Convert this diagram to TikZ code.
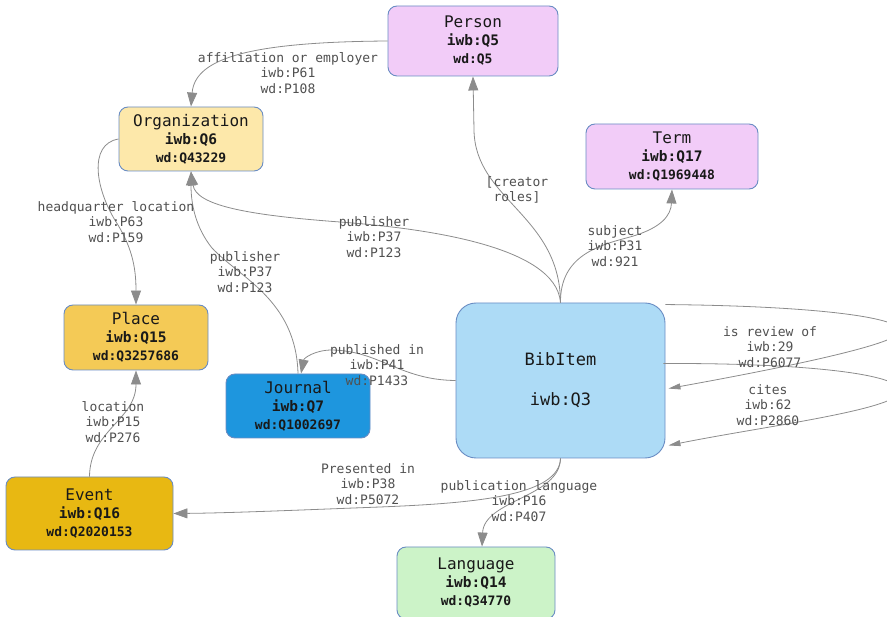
\documentclass[tikz,border=0pt]{standalone}
\usepackage{fontspec}
\newfontfamily\dvm{DejaVu Sans Mono}
\usetikzlibrary{arrows.meta,calc}
\definecolor{bord}{RGB}{105,140,195}
\definecolor{edgec}{RGB}{140,140,140}
\definecolor{lblc}{RGB}{80,80,80}
\definecolor{txtc}{RGB}{25,25,25}
\definecolor{persc}{RGB}{242,204,248}
\definecolor{orgc}{RGB}{253,232,170}
\definecolor{placec}{RGB}{244,202,86}
\definecolor{jourc}{RGB}{30,150,222}
\definecolor{bibc}{RGB}{173,219,246}
\definecolor{eventc}{RGB}{232,184,18}
\definecolor{langc}{RGB}{204,243,200}
\newcommand\ttl[1]{{\fontsize{16}{18}\selectfont #1}}
\newcommand\idi[1]{{\bfseries\fontsize{14.5}{18}\selectfont #1}}
\newcommand\idw[1]{{\bfseries\fontsize{13}{18}\selectfont #1}}
\tikzset{
  box/.style={draw=bord, line width=0.9pt, rounded corners=9pt, align=center,
    text=txtc, inner sep=0pt, font=\dvm\fontsize{14}{18}\selectfont},
  edge/.style={draw=edgec, line width=0.8pt, -{Triangle[length=14pt,width=10pt]}},
  loopedge/.style={draw=edgec, line width=0.8pt, -{Triangle[length=12pt,width=6pt]}},
  lbl/.style={font=\dvm\fontsize{13}{15.5}\selectfont, text=lblc, align=center, inner sep=0pt}
}
\begin{document}
\begin{tikzpicture}[x=1pt,y=-1pt]
\useasboundingbox (0,0) rectangle (887,617);
% nodes
\node[box, fill=persc, minimum width=170pt, minimum height=70pt] (person) at (473,41)
  {\ttl{Person}\\\idi{iwb:Q5}\\\idw{wd:Q5}};
\node[box, fill=orgc, minimum width=144pt, minimum height=64pt] (org) at (191,139)
  {\ttl{Organization}\\\idi{iwb:Q6}\\\idw{wd:Q43229}};
\node[box, fill=persc, minimum width=172pt, minimum height=65pt] (term) at (672,156.5)
  {\ttl{Term}\\\idi{iwb:Q17}\\\idw{wd:Q1969448}};
\node[box, fill=placec, minimum width=144pt, minimum height=65pt] (place) at (136,337.5)
  {\ttl{Place}\\\idi{iwb:Q15}\\\idw{wd:Q3257686}};
\node[box, fill=jourc, minimum width=144pt, minimum height=64pt] (journal) at (298,406)
  {\ttl{Journal}\\\idi{iwb:Q7}\\\idw{wd:Q1002697}};
\node[box, fill=bibc, rounded corners=20pt, minimum width=209pt, minimum height=155pt,
  font=\dvm\fontsize{17}{20}\selectfont] (bib) at (560.5,380.5)
  {BibItem\\[20pt]iwb:Q3};
\node[box, fill=eventc, minimum width=167pt, minimum height=73pt] (event) at (89.5,513.5)
  {\ttl{Event}\\\idi{iwb:Q16}\\\idw{wd:Q2020153}};
\node[box, fill=langc, minimum width=158pt, minimum height=72pt] (lang) at (476,583)
  {\ttl{Language}\\\idi{iwb:Q14}\\\idw{wd:Q34770}};
% edges
\draw[edge] (person.west) .. controls (250,42) and (195,58) .. (org.north);
\draw[edge] (org.west) .. controls (88,144) and (95,190) .. (118,225)
  .. controls (133,250) and (136,270) .. (place.north);
\draw[edge] (bib.north) .. controls (556,245) and (420,228) .. (340,222)
  .. controls (245,215) and (196,205) .. (org.south);
\draw[edge] (journal.north) .. controls (296,300) and (240,278) .. (212,248)
  .. controls (196,228) and (191,205) .. (org.south);
\draw[edge] (bib.west) .. controls (400,380) and (380,351) .. (332,350)
  .. controls (315,350) and (304,358) .. ($(journal.north)+(3,0)$);
\draw[edge] (bib.north) .. controls (560,215) and (475,200) .. (474,130) -- (person.south);
\draw[edge] (bib.north) .. controls (560,255) and (600,245) .. (630,237)
  .. controls (662,228) and (671,215) .. (term.south);
\draw[loopedge] ($(bib.north east)+(0,2)$) .. controls (820,306) and (905,318) .. (900,332)
  .. controls (895,346) and (760,372) .. ($(bib.north east)+(3,86)$);
\draw[loopedge] ($(bib.east)+(-2,-17)$) .. controls (820,363) and (905,376) .. (900,392)
  .. controls (895,410) and (760,427) .. ($(bib.south east)+(3,-13)$);
\draw[edge] (event.north) .. controls (90,430) and (136,420) .. (place.south);
\draw[edge] (bib.south) .. controls (559,495) and (480,503) .. (380,507)
  .. controls (300,510) and (230,513) .. (event.east);
\draw[edge] (bib.south) .. controls (560,497) and (484,500) .. ($(lang.north)+(6,0)$);
% labels
\node[lbl] (l1) at (288,73) {affiliation or employer\\iwb:P61\\wd:P108};
\node[lbl] (l2) at (116,222) {headquarter location\\iwb:P63\\wd:P159};
\node[lbl] (l3) at (374,237) {publisher\\iwb:P37\\wd:P123};
\node[lbl] (l4) at (245,272) {publisher\\iwb:P37\\wd:P123};
\node[lbl] (l5) at (377,365) {published in\\iwb:P41\\wd:P1433};
\node[lbl] (l6) at (113,422) {location\\iwb:P15\\wd:P276};
\node[lbl] (l7) at (517,190) {[creator\\roles]};
\node[lbl] (l8) at (615,246) {subject\\iwb:P31\\wd:921};
\node[lbl] (l9) at (770,347) {is review of\\iwb:29\\wd:P6077};
\node[lbl] (l10) at (768,405) {cites\\iwb:62\\wd:P2860};
\node[lbl] (l11) at (368,484) {Presented in\\iwb:P38\\wd:P5072};
\node[lbl] (l12) at (519,501) {publication language\\iwb:P16\\wd:P407};
\end{tikzpicture}
\end{document}
